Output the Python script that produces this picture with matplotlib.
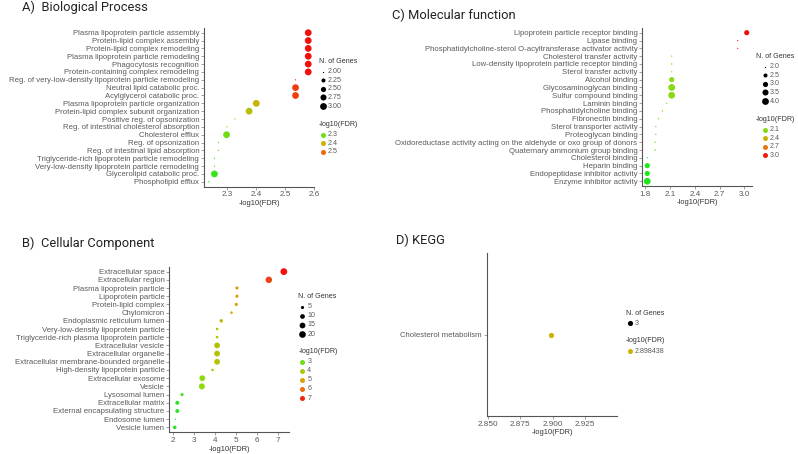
import matplotlib
matplotlib.use("Agg")
import matplotlib.pyplot as plt
import numpy as np
from matplotlib.colors import LinearSegmentedColormap, Normalize

# ---------------- data ----------------
bp_terms = ["Plasma lipoprotein particle assembly", "Protein-lipid complex assembly",
            "Protein-lipid complex remodeling", "Plasma lipoprotein particle remodeling",
            "Phagocytosis recognition", "Protein-containing complex remodeling",
            "Reg. of very-low-density lipoprotein particle remodeling",
            "Neutral lipid catabolic proc.", "Acylglycerol catabolic proc.",
            "Plasma lipoprotein particle organization",
            "Protein-lipid complex subunit organization", "Positive reg. of opsonization",
            "Reg. of intestinal cholesterol absorption", "Cholesterol efflux",
            "Reg. of opsonization", "Reg. of intestinal lipid absorption",
            "Triglyceride-rich lipoprotein particle remodeling",
            "Very-low-density lipoprotein particle remodeling",
            "Glycerolipid catabolic proc.", "Phospholipid efflux"]
bp_fdr = [2.58, 2.58, 2.58, 2.58, 2.58, 2.58, 2.536, 2.536, 2.536, 2.40,
          2.375, 2.326, 2.298, 2.297, 2.269, 2.269, 2.255, 2.255, 2.255, 2.236]
bp_genes = [3, 3, 3, 3, 3, 3, 2, 3, 3, 3, 3, 2, 2, 3, 2, 2, 2, 2, 3, 2]
bp_size_ticks = [2.00, 2.25, 2.50, 2.75, 3.00]
bp_size_labels = ["2.00", "2.25", "2.50", "2.75", "3.00"]
bp_col_ticks = [2.3, 2.4, 2.5]

mf_terms = ["Lipoprotein particle receptor binding", "Lipase binding",
            "Phosphatidylcholine-sterol O-acyltransferase activator activity",
            "Cholesterol transfer activity",
            "Low-density lipoprotein particle receptor binding", "Sterol transfer activity",
            "Alcohol binding", "Glycosaminoglycan binding", "Sulfur compound binding",
            "Laminin binding", "Phosphatidylcholine binding", "Fibronectin binding",
            "Sterol transporter activity", "Proteoglycan binding",
            "Oxidoreductase activity acting on the aldehyde or oxo group of donors",
            "Quaternary ammonium group binding", "Cholesterol binding", "Heparin binding",
            "Endopeptidase inhibitor activity", "Enzyme inhibitor activity"]
mf_fdr = [3.03, 2.92, 2.92, 2.12, 2.12, 2.12, 2.12, 2.12, 2.12, 2.06,
          2.008, 1.96, 1.928, 1.928, 1.92, 1.92, 1.824, 1.824, 1.824, 1.824]
mf_genes = [3, 2, 2, 2, 2, 2, 3, 4, 4, 2, 2, 2, 2, 2, 2, 2, 2, 3, 3, 4]
mf_size_ticks = [2.0, 2.5, 3.0, 3.5, 4.0]
mf_size_labels = ["2.0", "2.5", "3.0", "3.5", "4.0"]
mf_col_ticks = [2.1, 2.4, 2.7, 3.0]

cc_terms = ["Extracellular space", "Extracellular region", "Plasma lipoprotein particle",
            "Lipoprotein particle", "Protein-lipid complex", "Chylomicron",
            "Endoplasmic reticulum lumen", "Very-low-density lipoprotein particle",
            "Triglyceride-rich plasma lipoprotein particle", "Extracellular vesicle",
            "Extracellular organelle", "Extracellular membrane-bounded organelle",
            "High-density lipoprotein particle", "Extracellular exosome", "Vesicle",
            "Lysosomal lumen", "Extracellular matrix", "External encapsulating structure",
            "Endosome lumen", "Vesicle lumen"]
cc_fdr = [7.30, 6.58, 5.05, 5.05, 5.02, 4.79, 4.30, 4.10, 4.10, 4.10,
          4.10, 4.10, 3.88, 3.39, 3.37, 2.42, 2.19, 2.19, 2.10, 2.07]
cc_genes = [21, 19, 5, 5, 5, 4, 6, 4, 4, 15, 15, 15, 4, 15, 16, 5, 7, 7, 3, 6]
cc_size_ticks = [5, 10, 15, 20]
cc_size_labels = ["5", "10", "15", "20"]
cc_col_ticks = [3, 4, 5, 6, 7]

kegg_terms = ["Cholesterol metabolism"]
kegg_fdr = [2.898438]
kegg_genes = [3]

# ---------------- styling ----------------
W, H = 798, 454
cmap = LinearSegmentedColormap.from_list(
    "fdr", [(0, "#1fe61f"), (0.25, "#90d814"), (0.5, "#cdb100"),
            (0.75, "#ee6e12"), (1, "#f01010")])
GREY = "#5a5a5a"
TICK_FONT = "Liberation Sans"
TITLE_FONT = "Roboto"
FS = 5.6
LFS = 5.1   # legend text

fig = plt.figure(figsize=(W / 100, H / 100), dpi=100)
over = fig.add_axes([0, 0, 1, 1], zorder=5)
over.set_xlim(0, W)
over.set_ylim(H, 0)
over.axis("off")


def rect(l, t, r, b):
    return [l / W, 1 - b / H, (r - l) / W, (b - t) / H]


def diam(g, lo, hi, dmin=1.3, dmax=6.8):
    g = np.asarray(g, dtype=float)
    if hi == lo:
        t = np.full_like(g, 0.5)
    else:
        t = (g - lo) / (hi - lo)
    return dmin + (dmax - dmin) * np.sqrt(t)


def s_of(d):
    return (np.asarray(d) * 0.72) ** 2


def panel(box, terms, fdr, genes, xticks=None, xfmt=None, xlim=None):
    ax = fig.add_axes(rect(*box))
    n = len(terms)
    y = np.arange(n)[::-1]
    lo, hi = min(fdr), max(fdr)
    norm = Normalize(lo, hi) if hi > lo else Normalize(lo - 1, hi + 1)
    d = diam(genes, min(genes), max(genes))
    ax.scatter(fdr, y, s=s_of(d), c=[cmap(norm(v)) for v in fdr],
               linewidths=0, zorder=3, clip_on=False)
    ax.set_yticks(y)
    ax.set_yticklabels(terms, fontsize=FS, color=GREY, family=TICK_FONT)
    ax.set_ylim(-0.6, n - 0.4)
    if xlim is None:
        span = hi - lo
        xlim = (lo - 0.05 * span, hi + 0.05 * span)
    ax.set_xlim(*xlim)
    if xticks is not None:
        ax.set_xticks(xticks)
        if xfmt:
            ax.set_xticklabels([xfmt.format(v) for v in xticks])
    for lab in ax.get_xticklabels():
        lab.set_fontsize(FS + 0.3)
        lab.set_color(GREY)
        lab.set_family(TICK_FONT)
    ax.set_xlabel("-log10(FDR)", fontsize=FS - 0.2, color="#333333",
                  family=TICK_FONT, labelpad=1)
    for side in ["top", "right"]:
        ax.spines[side].set_visible(False)
    for side in ["left", "bottom"]:
        ax.spines[side].set_color("#555555")
        ax.spines[side].set_linewidth(0.8)
    ax.tick_params(length=2, width=0.5, color="#777777", pad=1.5)
    ax.set_facecolor("none")
    return norm


def legend(x, y0, size_ticks, size_labels, gene_range, col_ticks, col_labels,
           norm, step=8.6, gap=9.5, tx=-4):
    over.text(x + tx, y0, "N. of Genes", fontsize=LFS, color="#333333",
              family=TICK_FONT, va="center")
    yy = y0 + 10
    d = diam(size_ticks, gene_range[0], gene_range[1])
    for v, lab, dd in zip(size_ticks, size_labels, d):
        over.scatter([x], [yy], s=s_of(dd), c="black", linewidths=0)
        over.text(x + 5, yy, lab, fontsize=LFS, color=GREY, family=TICK_FONT,
                  va="center")
        yy += step
    yy += gap
    over.text(x + tx, yy, "-log10(FDR)", fontsize=LFS, color="#333333",
              family=TICK_FONT, va="center")
    yy += 10.5
    for v, lab in zip(col_ticks, col_labels):
        over.scatter([x], [yy], s=s_of(5.0), c=[cmap(norm(v))], linewidths=0)
        over.text(x + 5, yy, lab, fontsize=LFS, color=GREY, family=TICK_FONT,
                  va="center")
        yy += step


# A) Biological Process
nA = panel((204, 28, 314, 186.5), bp_terms, bp_fdr, bp_genes,
           xticks=[2.3, 2.4, 2.5, 2.6])
legend(323, 61.7, bp_size_ticks, bp_size_labels, (min(bp_genes), max(bp_genes)),
       bp_col_ticks, [str(v) for v in bp_col_ticks], nA)

# C) Molecular function
nC = panel((642.3, 28, 751.7, 186), mf_terms, mf_fdr, mf_genes,
           xticks=[1.8, 2.1, 2.4, 2.7, 3.0])
legend(765, 56.7, mf_size_ticks, mf_size_labels, (min(mf_genes), max(mf_genes)),
       mf_col_ticks, [str(v) for v in mf_col_ticks], nC, tx=-9)

# B) Cellular Component
nB = panel((169.3, 266.7, 289.3, 432.3), cc_terms, cc_fdr, cc_genes,
           xticks=[2, 3, 4, 5, 6, 7])
legend(302.3, 296.7, cc_size_ticks, cc_size_labels, (min(cc_genes), max(cc_genes)),
       cc_col_ticks, [str(v) for v in cc_col_ticks], nB, step=9.1, gap=8)

# D) KEGG
kv = kegg_fdr[0]
nD = panel((486.7, 253.3, 617.3, 415.7), kegg_terms, kegg_fdr, kegg_genes,
           xticks=[2.850, 2.875, 2.900, 2.925], xfmt="{:.3f}",
           xlim=(kv - 0.0495, kv + 0.0515))
legend(630, 313.3, kegg_genes, [str(g) for g in kegg_genes], (0, 6),
       kegg_fdr, ["2.898438"], nD, gap=9)

# panel titles
for x, y, t in [(22, 7, "A)  Biological Process"), (392, 15, "C) Molecular function"),
                (22, 243.5, "B)  Cellular Component"), (396, 240, "D) KEGG")]:
    over.text(x, y, t, fontsize=9.3, color="#222222", family=TITLE_FONT,
              va="center", ha="left")

fig.savefig("out.png", dpi=100)
